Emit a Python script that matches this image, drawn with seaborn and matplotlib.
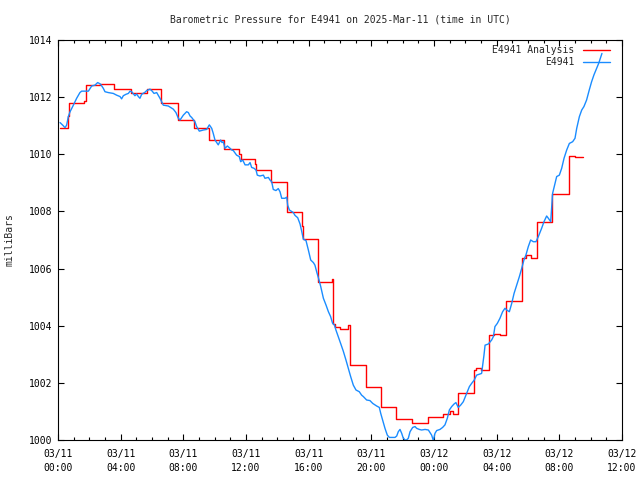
import pandas as pd
import seaborn as sns
import matplotlib.pyplot as plt
import matplotlib.dates as mdates

# ========== DATA ==========
# hours after 2025-03-11 00:00 UTC, pressure in milliBars
analysis_hours = [0.13, 0.66, 0.72, 1.68, 1.77, 2.68, 3.60, 4.66, 5.66, 6.57,
                  7.64, 8.68, 9.64, 10.62, 11.58, 11.66, 12.57, 12.66, 13.60, 14.60,
                  15.60, 15.66, 16.57, 17.47, 17.57, 17.70, 18.00, 18.53, 18.64, 19.66,
                  20.60, 21.60, 22.60, 23.60, 24.60, 25.00, 25.20, 25.55, 26.57, 26.70,
                  27.00, 27.53, 27.80, 28.20, 28.58, 29.60, 29.90, 30.20, 30.60, 31.55,
                  32.60, 33.00, 33.53]
analysis_mb = [1010.91, 1011.34, 1011.78, 1011.86, 1012.43, 1012.45, 1012.27, 1012.13, 1012.27, 1011.78,
               1011.20, 1010.91, 1010.50, 1010.18, 1010.00, 1009.84, 1009.65, 1009.45, 1009.02, 1007.99,
               1007.49, 1007.02, 1005.54, 1005.62, 1004.06, 1003.97, 1003.87, 1004.02, 1002.62, 1001.84,
               1001.17, 1000.72, 1000.59, 1000.79, 1000.90, 1001.00, 1000.91, 1001.63, 1002.45, 1002.52,
               1002.45, 1003.66, 1003.70, 1003.66, 1004.87, 1006.36, 1006.48, 1006.36, 1007.62, 1008.60,
               1009.94, 1009.92, 1009.92]

obs_hours = [0.13, 0.30, 0.45, 0.55, 0.66, 0.77, 0.98, 1.19, 1.40, 1.51,
             1.72, 1.94, 2.15, 2.36, 2.53, 2.64, 2.72, 2.89, 3.00, 3.21,
             3.53, 3.74, 3.96, 4.06, 4.17, 4.34, 4.49, 4.60, 4.70, 4.91,
             5.02, 5.13, 5.23, 5.34, 5.55, 5.66, 5.87, 5.98, 6.13, 6.30,
             6.51, 6.72, 7.04, 7.36, 7.53, 7.68, 7.79, 7.89, 8.00, 8.21,
             8.32, 8.43, 8.53, 8.74, 8.85, 9.02, 9.28, 9.49, 9.66, 9.81,
             9.91, 10.02, 10.23, 10.38, 10.47, 10.55, 10.66, 10.81, 10.98, 11.09,
             11.19, 11.40, 11.57, 11.66, 11.79, 11.94, 12.15, 12.26, 12.36, 12.51,
             12.64, 12.72, 12.89, 13.11, 13.21, 13.43, 13.53, 13.64, 13.74, 13.91,
             14.06, 14.17, 14.28, 14.49, 14.60, 14.66, 14.77, 15.02, 15.13, 15.30,
             15.45, 15.55, 15.66, 15.83, 15.98, 16.13, 16.30, 16.40, 16.51, 16.66,
             16.77, 16.94, 17.11, 17.26, 17.40, 17.53, 17.64, 17.74, 17.89, 18.04,
             18.21, 18.38, 18.53, 18.68, 18.85, 19.02, 19.23, 19.38, 19.49, 19.70,
             19.91, 20.09, 20.34, 20.51, 20.60, 20.72, 20.87, 21.02, 21.15, 21.30,
             21.51, 21.62, 21.72, 21.83, 21.94, 22.04, 22.21, 22.36, 22.47, 22.64,
             22.79, 22.89, 23.06, 23.21, 23.43, 23.64, 23.85, 23.96, 24.06, 24.17,
             24.38, 24.55, 24.70, 24.85, 24.98, 25.13, 25.28, 25.40, 25.55, 25.70,
             25.87, 26.04, 26.26, 26.40, 26.57, 26.72, 26.89, 27.04, 27.11, 27.19,
             27.26, 27.47, 27.68, 27.79, 27.89, 28.04, 28.21, 28.38, 28.53, 28.64,
             28.81, 28.96, 29.11, 29.28, 29.45, 29.60, 29.74, 29.87, 30.02, 30.17,
             30.34, 30.51, 30.66, 30.87, 31.02, 31.19, 31.30, 31.45, 31.57, 31.72,
             31.83, 32.00, 32.15, 32.30, 32.47, 32.64, 32.85, 33.00, 33.11, 33.28,
             33.43, 33.57, 33.74, 33.91, 34.06, 34.21, 34.34, 34.51, 34.62, 34.72]
obs_mb = [1011.11, 1011.02, 1010.93, 1011.02, 1011.32, 1011.49, 1011.72, 1011.96, 1012.16, 1012.21,
          1012.21, 1012.21, 1012.39, 1012.42, 1012.51, 1012.48, 1012.45, 1012.31, 1012.19, 1012.16,
          1012.13, 1012.07, 1012.02, 1011.94, 1012.05, 1012.10, 1012.13, 1012.21, 1012.19, 1012.05,
          1012.11, 1012.02, 1011.96, 1012.10, 1012.17, 1012.23, 1012.28, 1012.23, 1012.13, 1012.16,
          1011.96, 1011.72, 1011.69, 1011.58, 1011.46, 1011.26, 1011.20, 1011.28, 1011.37, 1011.49,
          1011.46, 1011.34, 1011.29, 1011.14, 1010.97, 1010.81, 1010.85, 1010.87, 1011.03, 1010.91,
          1010.73, 1010.50, 1010.33, 1010.50, 1010.41, 1010.44, 1010.21, 1010.29, 1010.21, 1010.15,
          1010.13, 1009.97, 1009.92, 1009.74, 1009.80, 1009.63, 1009.63, 1009.71, 1009.54, 1009.51,
          1009.45, 1009.27, 1009.24, 1009.27, 1009.16, 1009.19, 1009.10, 1009.04, 1008.77, 1008.73,
          1008.80, 1008.69, 1008.46, 1008.46, 1008.50, 1008.22, 1008.05, 1007.96, 1007.86, 1007.78,
          1007.56, 1007.32, 1007.03, 1006.98, 1006.65, 1006.30, 1006.21, 1006.12, 1005.89, 1005.60,
          1005.37, 1004.96, 1004.72, 1004.49, 1004.32, 1004.08, 1004.03, 1003.85, 1003.62, 1003.38,
          1003.11, 1002.80, 1002.51, 1002.22, 1001.92, 1001.75, 1001.69, 1001.57, 1001.52, 1001.40,
          1001.38, 1001.28, 1001.19, 1001.14, 1000.93, 1000.70, 1000.41, 1000.17, 1000.09, 1000.09,
          1000.09, 1000.14, 1000.29, 1000.37, 1000.23, 1000.06, 999.98, 1000.06, 1000.29, 1000.44,
          1000.47, 1000.41, 1000.37, 1000.35, 1000.37, 1000.35, 1000.17, 999.98, 1000.23, 1000.33,
          1000.37, 1000.44, 1000.53, 1000.76, 1001.05, 1001.17, 1001.26, 1001.31, 1001.14, 1001.22,
          1001.34, 1001.57, 1001.87, 1001.98, 1002.10, 1002.27, 1002.30, 1002.33, 1002.62, 1002.97,
          1003.32, 1003.36, 1003.50, 1003.62, 1003.97, 1004.08, 1004.26, 1004.49, 1004.61, 1004.55,
          1004.49, 1004.78, 1005.13, 1005.42, 1005.72, 1006.01, 1006.30, 1006.48, 1006.77, 1007.00,
          1006.94, 1006.94, 1007.12, 1007.41, 1007.64, 1007.84, 1007.76, 1007.64, 1008.63, 1008.98,
          1009.22, 1009.27, 1009.51, 1009.86, 1010.15, 1010.38, 1010.44, 1010.56, 1010.91, 1011.32,
          1011.55, 1011.67, 1011.90, 1012.25, 1012.54, 1012.78, 1012.95, 1013.18, 1013.36, 1013.53]

y_ticks = [1000, 1002, 1004, 1006, 1008, 1010, 1012, 1014]

# ========== PLOT ==========
base = pd.Timestamp("2025-03-11 00:00")
df_an = pd.DataFrame({"time": base + pd.to_timedelta(analysis_hours, unit="h"), "mb": analysis_mb})
df_obs = pd.DataFrame({"time": base + pd.to_timedelta(obs_hours, unit="h"), "mb": obs_mb})

sns.set_style("ticks")
plt.rcParams["font.family"] = ["DejaVu Sans Mono"]
plt.rcParams["font.size"] = 7

fig = plt.figure(figsize=(6.4, 4.8), dpi=100)
ax = fig.add_axes([58 / 640, 40 / 480, 564 / 640, 400 / 480])

sns.lineplot(data=df_an, x="time", y="mb", color="#ff0000", lw=1.0,
             drawstyle="steps-post", estimator=None, sort=False,
             label="E4941 Analysis", ax=ax)
sns.lineplot(data=df_obs, x="time", y="mb", color="#1a8cff", lw=1.0,
             estimator=None, sort=False, label="E4941", ax=ax)

ax.set_xlim(base, base + pd.Timedelta(hours=36))
ax.set_ylim(1000, 1014)
ax.set_yticks(y_ticks)
ax.xaxis.set_major_locator(mdates.HourLocator(byhour=range(0, 24, 4)))
ax.xaxis.set_minor_locator(mdates.HourLocator())
ax.xaxis.set_major_formatter(mdates.DateFormatter("%m/%d\n%H:%M"))
for lab in ax.get_xticklabels():
    lab.set_linespacing(1.5)

ax.tick_params(which="both", direction="in", top=True, right=True, colors="black", labelsize=7)
ax.tick_params(which="major", length=4, width=0.8)
ax.tick_params(which="minor", length=2.2, width=0.8)
ax.tick_params(axis="y", pad=4)
ax.tick_params(axis="x", pad=6.5)
for s in ax.spines.values():
    s.set_visible(True)
    s.set_color("black")
    s.set_linewidth(0.8)

ax.set_xlabel("")
ax.set_ylabel("")
fig.text(10 / 640, 0.5, "milliBars", rotation=90, ha="center", va="center", fontsize=7)
# title centred over the plot area, like gnuplot does
fig.text(340 / 640, 1 - 19 / 480, "Barometric Pressure for E4941 on 2025-Mar-11 (time in UTC)",
         ha="center", va="center", fontsize=7)

ax.legend(loc="upper right", bbox_to_anchor=(0.984, 0.995), frameon=False,
          markerfirst=False, fontsize=7, handlelength=2.8, handletextpad=0.9,
          labelspacing=0.25, borderpad=0.3, borderaxespad=0)

plt.savefig("out.png", dpi=100)
